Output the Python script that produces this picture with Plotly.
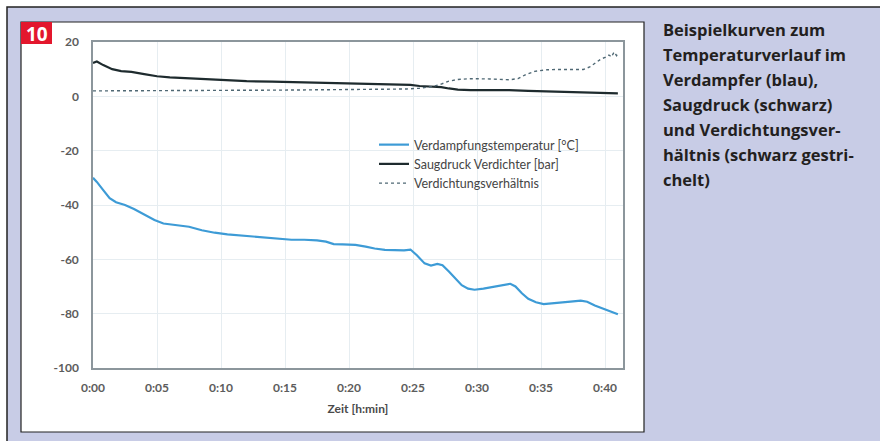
import plotly.graph_objects as go

# ---------------- data ----------------
x_tickvals = [0, 5, 10, 15, 20, 25, 30, 35, 40]
x_ticklabels = ["0:00", "0:05", "0:10", "0:15", "0:20", "0:25", "0:30", "0:35", "0:40"]
y_tickvals = [20, 0, -20, -40, -60, -80, -100]
y_ticklabels = ["20", "0", "-20", "-40", "-60", "-80", "-100"]

temp_t = [0.0, 0.3, 0.8, 1.3, 1.8, 2.5, 3.2, 4.0, 4.8, 5.5, 6.5, 7.5, 8.5, 9.5, 10.5,
          11.5, 12.5, 13.5, 14.5, 15.5, 16.5, 17.5, 18.2, 18.8, 19.5, 20.5, 21.3, 22.0,
          22.8, 23.5, 24.3, 24.8, 25.3, 25.9, 26.4, 26.9, 27.3, 27.8, 28.3, 28.8, 29.3,
          29.8, 30.5, 31.3, 32.0, 32.6, 33.0, 33.5, 34.0, 34.6, 35.2, 35.8, 36.5, 37.3,
          38.1, 38.6, 39.2, 39.8, 40.3, 40.7, 41.0]
temp_v = [-30.0, -31.5, -34.5, -37.5, -39.0, -40.0, -41.5, -43.5, -45.5, -46.8, -47.3,
          -48.0, -49.3, -50.2, -50.8, -51.2, -51.6, -52.1, -52.5, -52.8, -52.8, -53.0,
          -53.5, -54.4, -54.5, -54.7, -55.3, -56.0, -56.5, -56.5, -56.7, -56.4, -58.5,
          -61.5, -62.3, -61.7, -62.2, -64.5, -67.0, -69.5, -70.8, -71.2, -70.8, -70.2,
          -69.6, -69.0, -70.0, -72.5, -74.5, -75.8, -76.5, -76.3, -75.8, -75.6, -75.2,
          -75.6, -77.0, -78.0, -78.8, -79.5, -80.2]

press_t = [0.0, 0.3, 0.8, 1.5, 2.2, 3.0, 4.0, 5.0, 6.0, 7.5, 9.0, 10.5, 12.0, 14.0, 16.0,
           18.0, 20.0, 22.0, 24.0, 24.8, 25.5, 26.5, 27.2, 27.8, 28.5, 29.5, 31.0, 32.5,
           34.0, 35.5, 37.5, 39.0, 40.0, 41.0]
press_v = [12.3, 12.8, 11.5, 10.0, 9.3, 9.0, 8.2, 7.4, 7.0, 6.6, 6.2, 5.9, 5.6, 5.4, 5.2,
           5.0, 4.8, 4.6, 4.4, 4.2, 3.8, 3.6, 3.4, 2.9, 2.5, 2.3, 2.3, 2.3, 2.0, 1.8, 1.8,
           1.6, 1.3, 1.1]

ratio_t = [0.0, 2.0, 5.0, 10.0, 15.0, 20.0, 23.0, 24.5, 25.5, 26.5, 27.2, 27.8, 28.5,
           29.5, 31.0, 32.5, 33.2, 33.8, 34.5, 35.5, 36.5, 37.5, 38.3, 38.8, 39.3, 39.7,
           40.0, 40.3, 40.5, 40.7, 40.9, 41.0]
ratio_v = [2.0, 2.0, 2.1, 2.2, 2.3, 2.5, 2.5, 2.7, 3.0, 3.6, 4.5, 5.6, 6.2, 6.5, 6.4,
           6.1, 6.5, 8.0, 9.2, 9.8, 9.9, 9.8, 9.9, 10.8, 12.5, 13.8, 14.3, 15.2, 14.5,
           16.3, 15.0, 16.0]

series_names = ["Verdampfungstemperatur [°C]", "Saugdruck Verdichter [bar]",
                "Verdichtungsverhältnis"]
caption_lines = ["Beispielkurven zum", "Temperaturverlauf im", "Verdampfer (blau),",
                 "Saugdruck (schwarz)", "und Verdichtungsver-",
                 "hältnis (schwarz gestri-", "chelt)"]
x_title = "Zeit [h:min]"
fig_number = "10"

# ---------------- layout geometry ----------------
W, H = 880, 441
L, R, T, B = 93, 623, 42, 368


def px(xp):
    return (xp - L) / (R - L)


def py(yp):
    return (B - yp) / (B - T)


fig = go.Figure()
fig.add_trace(go.Scatter(x=temp_t, y=temp_v, mode="lines", name=series_names[0],
                         line=dict(color="#3d9bd6", width=2.2)))
fig.add_trace(go.Scatter(x=press_t, y=press_v, mode="lines", name=series_names[1],
                         line=dict(color="#1e2b2e", width=2.2)))
fig.add_trace(go.Scatter(x=ratio_t, y=ratio_v, mode="lines", name=series_names[2],
                         line=dict(color="#4f6874", width=1.4, dash="dot")))

shapes = [
    dict(type="rect", xref="paper", yref="paper", x0=px(7), x1=px(900), y0=py(7), y1=py(460),
         fillcolor="#c8cce6", line=dict(color="#222222", width=1.5), layer="below"),
    dict(type="rect", xref="paper", yref="paper", x0=px(21), x1=px(644), y0=py(22), y1=py(432),
         fillcolor="#ffffff", line=dict(color="#222222", width=1.2), layer="below"),
    dict(type="rect", xref="paper", yref="paper", x0=px(21), x1=px(52), y0=py(22), y1=py(44),
         fillcolor="#e3172d", line=dict(width=0), layer="above"),
]

annotations = [
    dict(text="<b>" + fig_number + "</b>", xref="paper", yref="paper", x=px(36.5), y=py(33.5),
         xanchor="center", yanchor="middle", showarrow=False,
         font=dict(family="Open Sans", size=19, color="white")),
]
for i, line in enumerate(caption_lines):
    annotations.append(dict(text="<b>" + line + "</b>", xref="paper", yref="paper",
                            x=px(661), y=py(29 + 25.0 * i), xanchor="left", yanchor="middle",
                            showarrow=False,
                            font=dict(family="Open Sans", size=16.5, color="#231f20")))

axis_font = dict(family="Lato", size=12, color="#5c5c5c", weight="bold")

fig.update_layout(
    width=W, height=H,
    margin=dict(l=L, r=W - R, t=T, b=H - B, pad=0),
    paper_bgcolor="white",
    plot_bgcolor="white",
    shapes=shapes,
    annotations=annotations,
    showlegend=True,
    legend=dict(x=px(374), y=py(130), xanchor="left", yanchor="top",
                bgcolor="rgba(0,0,0,0)", font=dict(family="Lato", size=12.5, color="#454545"),
                tracegroupgap=0, itemwidth=30),
    xaxis=dict(range=[0, 41.4], tickvals=x_tickvals, ticktext=x_ticklabels,
               showline=True, mirror=True, linecolor="#8c969c", linewidth=1.5,
               showgrid=True, gridcolor="#e6edf1", gridwidth=1, zeroline=False,
               ticks="", tickfont=axis_font, ticklabelstandoff=8,
               title=dict(text=x_title, font=dict(family="Lato", size=12, color="#4a4a4a",
                                                  weight="bold"), standoff=10)),
    yaxis=dict(range=[-100, 20], tickvals=y_tickvals, ticktext=y_ticklabels,
               showline=True, mirror=True, linecolor="#8c969c", linewidth=1.5,
               showgrid=True, gridcolor="#e6edf1", gridwidth=1, zeroline=False,
               ticks="", tickfont=axis_font, ticklabelstandoff=10),
)

fig.write_html("out.html", config={"displayModeBar": False},
               post_script="document.body.style.margin='0';")
